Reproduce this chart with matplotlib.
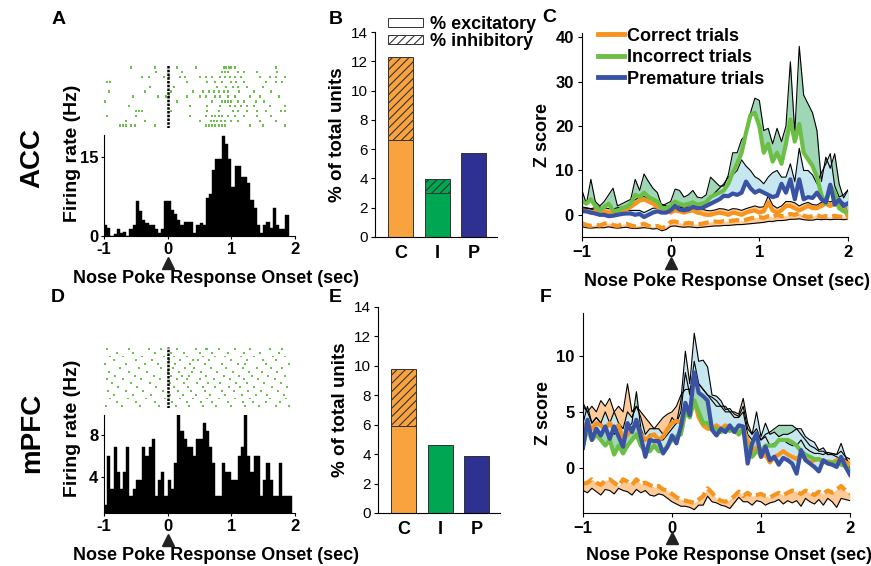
import numpy as np
import matplotlib
matplotlib.use('Agg')
import matplotlib.pyplot as plt
from matplotlib.patches import Patch
from matplotlib.lines import Line2D

plt.rcParams['font.family'] = ['Liberation Sans', 'DejaVu Sans']
plt.rcParams['font.weight'] = 'bold'
plt.rcParams['axes.labelweight'] = 'bold'
plt.rcParams['hatch.linewidth'] = 0.8

# ---------------- data ----------------
# PSTH (50 ms bins starting at -1 s)
acc_hist = [2.1, 1.5, 0, 0.3, 1.4, 0.5, 0.7, 0, 1.4, 2, 6.7, 4.8, 3, 2.5, 2, 2, 1.3, 0.5, 1.4,
            6.7, 6.7, 4.9, 4.2, 3, 2, 2.7, 2.7, 2.7, 0.5, 2, 2.5, 2, 7.3, 7.9, 12.6, 14.6, 14.6,
            19, 17.4, 14.6, 9.3, 13.3, 13.3, 11.3, 11.3, 10.1, 6.8, 5.4, 2.1, 0.5, 2.1, 2.7, 1.6,
            5.4, 2.1, 1.4, 1.4, 4]
mpfc_hist = [1.3, 6.0, 2.8, 6.8, 4.4, 2.8, 4.4, 6.8, 2.1, 2.8, 3.7, 3.7, 6.8, 6.0, 6.8, 7.6, 2.1,
             3.7, 4.4, 2.1, 3.7, 2.8, 5.3, 9.9, 8.4, 7.6, 6.8, 6.8, 6.0, 7.6, 7.6, 9.1, 8.4, 6.8,
             5.3, 2.1, 2.1, 5.3, 4.4, 4.4, 3.7, 3.7, 6.0, 6.8, 9.9, 6.0, 4.4, 6.0, 6.0, 2.1, 3.7,
             5.3, 3.7, 2.1, 2.1, 5.3, 2.1, 2.1, 2.1]

# raster spike times (s), one list per trial
acc_raster = [
    [-0.57, -0.2, 0.15, 0.45, 0.88, 0.92, 0.96, 1.0, 1.05, 1.7],
    [-0.18, 0.22, 0.85, 0.9, 0.95, 1.1, 1.2, 1.4, 1.72],
    [-0.4, -0.3, -0.05, 0.02, 0.2, 0.28, 0.5, 0.6, 0.7, 0.82, 0.9, 0.98, 1.05, 1.15, 1.45, 1.6, 1.7, 1.85],
    [-0.95, -0.9, 0.0, 0.3, 0.62, 0.75, 0.85, 1.0, 1.08, 1.2, 1.55, 1.7, 1.8],
    [-0.28, 0.1, 0.78, 0.92, 1.02, 1.1, 1.25, 1.5],
    [-0.92, -0.35, 0.05, 0.4, 0.55, 0.65, 0.72, 0.8, 0.88, 0.95, 1.12, 1.35, 1.62],
    [-0.55, -0.15, -0.02, 0.02, 0.3, 0.5, 0.6, 0.75, 0.82, 0.95, 1.05, 1.3, 1.45, 1.75],
    [-0.98, 0.15, 0.7, 0.85, 0.9, 0.95, 1.0, 1.1, 1.2, 1.38, 1.52],
    [-0.6, 0.35, 0.62, 0.82, 0.98, 1.05, 1.15, 1.25, 1.35, 1.6, 1.85],
    [-0.5, -0.45, -0.4, 0.05, 0.62, 0.8, 1.02, 1.1, 1.25, 1.4, 1.55, 1.78, 1.85],
    [-0.95, -0.5, 0.02, 0.35, 0.6, 0.7, 0.75, 0.8, 0.85, 0.95, 1.05, 1.2, 1.4, 1.62],
    [-0.65, -0.35, 0.5, 0.68, 0.72, 0.78, 0.83, 0.9, 1.0, 1.1, 1.45, 1.7],
    [-0.75, -0.7, -0.65, -0.58, -0.52, -0.2, 0.6, 0.65, 0.7, 0.75, 0.8, 0.85, 0.9, 1.3, 1.5, 1.85],
]
mpfc_raster = [
    [-0.95, -0.6, -0.3, -0.1, 0.15, 0.45, 0.6, 0.62, 0.8, 1.05, 1.3, 1.6, 1.8],
    [-0.8, -0.55, -0.2, 0.05, 0.25, 0.5, 0.7, 0.95, 1.2, 1.45, 1.75],
    [-0.9, -0.7, -0.4, -0.05, 0.1, 0.3, 0.55, 0.75, 0.9, 1.15, 1.35, 1.65, 1.85],
    [-0.85, -0.5, -0.25, 0.02, 0.2, 0.4, 0.48, 0.65, 1.0, 1.25, 1.5, 1.7],
    [-0.98, -0.65, -0.35, -0.15, 0.12, 0.35, 0.58, 0.85, 1.1, 1.22, 1.55, 1.9],
    [-0.75, -0.45, -0.1, 0.08, 0.28, 0.42, 0.68, 0.92, 1.18, 1.4, 1.62, 1.8],
    [-0.92, -0.6, -0.32, 0.0, 0.18, 0.38, 0.52, 0.78, 1.02, 1.28, 1.48, 1.72],
    [-0.82, -0.52, -0.22, 0.06, 0.22, 0.33, 0.6, 0.88, 1.12, 1.32, 1.58, 1.85],
    [-0.96, -0.7, -0.42, -0.12, 0.14, 0.3, 0.5, 0.72, 0.98, 1.2, 1.42, 1.68],
    [-0.88, -0.58, -0.28, 0.04, 0.26, 0.46, 0.64, 0.82, 1.08, 1.24, 1.52, 1.78],
    [-0.78, -0.48, -0.18, 0.1, 0.32, 0.55, 0.74, 0.96, 1.14, 1.36, 1.64, 1.88],
    [-0.94, -0.66, -0.38, -0.08, 0.16, 0.36, 0.58, 0.86, 1.04, 1.26, 1.46, 1.74],
    [-0.84, -0.54, -0.26, 0.03, 0.24, 0.44, 0.66, 0.9, 1.16, 1.38, 1.56, 1.82],
    [-0.9, -0.62, -0.34, -0.04, 0.2, 0.4, 0.62, 0.8, 1.06, 1.3, 1.6, 1.86],
    [-0.8, -0.5, -0.2, 0.07, 0.3, 0.52, 0.7, 0.94, 1.19, 1.34, 1.54, 1.76],
    [-0.97, -0.72, -0.44, -0.14, 0.13, 0.34, 0.56, 0.76, 1.0, 1.21, 1.44, 1.7, 1.9],
]

# bar charts: % of total units
bar_cats = ['C', 'I', 'P']
acc_exc = [6.6, 3.0, 5.75]
acc_inh = [5.7, 0.95, 0]
mpfc_exc = [5.9, 4.6, 3.9]
mpfc_inh = [3.9, 0, 0]

# z-score traces, 50 ms steps from -1 to 2 s
t = np.linspace(-1, 2, 61)

c_inc_m = [3.0, 2.5, 3.5, 2.0, 1.0, 1.8, 2.5, 1.0, 0.8, 1.5, 1.8, 2.5, 4.5, 4.0, 5.0, 4.0, 3.5, 3.0, 1.5, 1.5,
           2.0, 3.0, 2.5, 2.2, 2.5, 2.8, 2.3, 2.5, 2.8, 4.0, 4.5, 5.0, 5.5, 7.0, 9.5, 11.5, 14.0, 18.5, 22.5, 23.0,
           20.0, 14.0, 16.0, 12.0, 14.0, 11.5, 16.0, 21.5, 16.5, 20.5, 14.0, 12.5, 11.0, 8.5, 4.5, 2.5, 6.5, 5.0, 1.5, 0.8,
           0.5]
c_inc_u = [5.5, 2.5, 8.0, 3.0, 2.0, 3.0, 4.5, 6.0, 2.0, 2.5, 3.0, 3.5, 8.0, 5.5, 9.2, 7.5, 6.0, 5.0, 2.0, 2.5,
           3.0, 5.8, 5.5, 4.0, 4.5, 5.5, 4.0, 3.8, 4.5, 8.5, 7.5, 6.5, 6.5, 9.0, 14.0, 14.0, 17.0, 18.0, 23.0, 26.3,
           25.8, 19.0, 19.5, 16.0, 19.5, 16.5, 20.0, 34.5, 18.5, 38.0, 27.0, 25.0, 23.0, 19.0, 7.5, 13.0, 10.5, 13.8, 7.0, 3.8,
           5.6]
c_pre_m = [0.8, 0.8, 0.5, 0.3, 0.0, 0.0, -0.3, -0.2, 0.0, 0.2, 0.3, 0.3, 0.0, 0.2, -0.5, 0.0, 0.5, 0.8, 0.5, 0.5,
           1.0, 2.0, 1.2, 1.0, 1.2, 1.8, 1.5, 1.5, 2.0, 2.5, 3.0, 3.5, 4.3, 4.2, 4.8, 4.5, 5.0, 7.5, 6.0, 5.0,
           5.5, 5.0, 4.5, 4.0, 4.3, 7.0, 5.0, 8.0, 3.5, 8.0, 3.5, 4.0, 3.8, 5.0, 3.5, 2.8, 6.8, 2.3, 3.4, 2.0,
           2.6]
c_pre_u = [1.5, 1.5, 1.3, 1.0, 0.8, 0.8, 0.5, 0.5, 0.8, 1.0, 1.0, 1.0, 1.0, 1.0, 0.5, 1.0, 1.5, 1.5, 1.5, 1.5,
           2.0, 3.0, 2.0, 2.0, 2.0, 2.8, 2.5, 2.5, 3.0, 4.0, 5.0, 6.0, 7.0, 8.5, 9.0, 10.0, 12.4, 11.0, 10.0, 8.6,
           8.0, 7.0, 8.5, 9.5, 10.0, 8.5, 8.5, 11.5, 7.5, 15.0, 10.0, 10.0, 9.0, 7.0, 9.5, 11.5, 13.8, 6.5, 4.0, 4.5,
           5.6]
c_cor_m = [1.0, 0.8, 0.5, 0.8, 1.0, 0.8, 0.5, 0.5, 0.8, 1.0, 1.2, 1.8, 2.5, 3.2, 3.5, 3.0, 2.5, 1.8, 1.5, 1.0,
           0.5, 1.0, 0.8, 0.5, 0.8, 1.0, 0.5, 0.3, 0.0, 0.0, 0.3, 0.5, 0.3, 0.0, 0.5, 0.3, 0.0, 0.5, 0.8, 1.0,
           0.5, 0.8, 2.8, 1.0, 0.5, 1.0, 2.0, 2.0, 1.5, 1.0, 1.5, 2.0, 1.5, 1.5, 2.0, 2.5, 2.0, 2.5, 2.0, 1.8,
           -0.5]
c_cor_s = [0.8, 0.8, 0.9, 0.8, 0.7, 0.8, 0.9, 0.8, 0.8, 0.7, 0.8, 0.8, 0.9, 0.8, 0.6, 0.7, 0.8, 0.8, 0.9, 1.0,
           0.9, 0.8, 0.9, 1.0, 0.8, 0.8, 1.0, 1.0, 1.0, 0.9, 0.8, 0.9, 1.0, 1.0, 0.9, 1.0, 1.0, 0.9, 0.9, 1.0,
           1.2, 1.0, 1.5, 1.2, 1.0, 1.0, 1.0, 1.0, 1.2, 1.0, 1.0, 0.8, 0.8, 0.7, 0.8, 0.7, 0.9, 0.8, 0.9, 1.0,
           0.8]
c_inh_m = [-1.9, -2.3, -2.5, -2.2, -2.4, -2.0, -1.8, -2.3, -2.5, -2.2, -2.0, -2.4, -2.6, -2.3, -2.0, -2.5, -2.7, -2.5, -3.0, -2.6,
           -1.6, -1.5, -1.8, -2.0, -1.8, -2.0, -2.2, -2.0, -1.8, -1.6, -1.5, -1.6, -1.4, -1.5, -1.3, -1.2, -1.4, -1.1, -0.8, -0.6,
           -0.5, -0.7, -0.3, -0.5, 0.0, -0.3, -0.2, 0.2, 0.0, 0.4, -0.2, -0.5, -0.3, 0.0, -0.5, -0.3, -0.5, -0.2, -0.4, -0.5,
           -0.4]
c_inh_s = [0.8, 0.6, 0.5, 0.7, 0.5, 0.9, 0.9, 0.6, 0.5, 0.7, 0.8, 0.6, 0.5, 0.7, 0.9, 0.5, 0.5, 0.6, 0.6, 0.7,
           1.0, 1.0, 0.9, 0.8, 0.9, 0.8, 0.7, 0.8, 0.9, 1.0, 1.0, 0.9, 1.0, 0.9, 1.0, 1.0, 0.8, 1.0, 1.2, 1.3,
           1.3, 1.0, 1.2, 1.0, 1.3, 1.0, 1.0, 1.2, 1.0, 1.3, 0.9, 0.7, 0.9, 1.0, 0.6, 0.7, 0.6, 0.8, 0.6, 0.6,
           0.6]

f_pre_m = [1.8, 4.3, 2.5, 3.5, 2.9, 3.7, 2.6, 3.7, 2.8, 1.9, 4.0, 3.2, 4.3, 2.8, 1.0, 2.5, 2.4, 2.4, 1.3, 1.9,
           2.9, 2.2, 3.7, 5.8, 4.7, 8.5, 6.7, 6.4, 6.0, 3.4, 2.9, 3.5, 3.2, 3.8, 3.2, 3.8, 3.7, 0.4, 2.2, 3.1,
           1.0, 1.9, 0.7, 1.0, 0.3, 0.9, 0.7, 0.4, -0.5, 1.6, 0.7, 0.4, 0.1, -0.3, 0.7, 0.4, 0.3, 0.1, 1.0, 0.1,
           -0.6]
f_pre_u = [5.5, 5.0, 4.0, 4.5, 4.0, 5.0, 4.0, 5.0, 4.0, 3.5, 5.0, 4.5, 5.5, 4.5, 3.0, 3.5, 3.5, 3.5, 3.0, 3.5,
           4.5, 4.0, 6.0, 10.4, 7.5, 12.0, 9.5, 9.6, 9.0, 6.5, 6.4, 6.0, 5.2, 5.3, 4.8, 4.6, 5.5, 3.5, 3.0, 5.0,
           2.8, 4.0, 3.0, 3.2, 2.8, 3.0, 3.0, 3.2, 3.5, 3.5, 2.8, 2.5, 2.3, 1.6, 1.8, 1.2, 1.3, 1.2, 2.2, 1.0,
           0.2]
f_inc_m = [2.0, 3.5, 2.5, 3.0, 2.5, 2.0, 2.5, 1.2, 2.0, 1.3, 2.0, 2.5, 3.0, 2.0, 1.5, 1.5, 2.0, 1.5, 1.5, 2.0,
           2.5, 2.8, 3.0, 5.0, 4.5, 6.0, 5.0, 4.0, 4.0, 3.5, 3.5, 3.2, 3.5, 3.3, 3.5, 3.0, 3.5, 1.5, 1.0, 1.5,
           1.5, 2.0, 2.0, 2.0, 2.5, 2.5, 2.5, 2.3, 2.0, 1.5, 1.2, 1.0, 0.8, 0.8, 0.6, 0.5, 0.5, 0.5, 0.3, 0.2,
           -0.3]
f_inc_u = [4.0, 5.5, 4.0, 4.5, 4.0, 3.5, 4.0, 3.0, 3.5, 2.5, 3.5, 4.0, 6.8, 3.5, 2.5, 3.0, 3.0, 2.5, 2.5, 3.0,
           3.5, 4.0, 5.0, 8.5, 6.5, 9.5, 7.5, 7.0, 6.5, 6.0, 5.5, 5.5, 5.0, 5.0, 4.5, 4.5, 5.0, 3.0, 2.5, 3.0,
           2.5, 3.0, 3.2, 3.5, 3.8, 3.8, 3.8, 3.8, 3.5, 3.0, 2.5, 2.0, 1.8, 1.5, 1.5, 1.2, 1.2, 1.0, 0.8, 0.8,
           0.0]
f_cor_m = [3.8, 4.0, 3.5, 4.0, 3.8, 3.5, 4.0, 3.5, 3.8, 2.5, 3.0, 3.5, 4.0, 3.0, 2.5, 2.8, 3.0, 2.5, 2.8, 3.5,
           4.0, 4.2, 4.0, 5.5, 5.0, 6.0, 4.5, 3.8, 3.5, 3.5, 3.8, 3.5, 3.8, 3.5, 3.3, 3.0, 3.5, 2.5, 1.5, 1.8,
           1.0, 1.2, 0.5, 1.0, 1.2, 1.5, 1.2, 1.0, 0.8, 1.2, 0.8, 0.5, 0.7, 0.8, 0.5, 0.6, 0.5, 0.7, 0.8, 0.5,
           0.3]
f_cor_u = [5.8, 5.0, 5.5, 5.0, 6.0, 5.5, 6.2, 5.0, 5.5, 5.0, 7.5, 5.0, 5.5, 5.0, 4.5, 4.0, 3.5, 4.0, 4.5, 4.8,
           5.0, 5.5, 6.5, 7.0, 7.0, 8.0, 7.5, 7.0, 6.5, 6.3, 6.0, 5.5, 5.5, 5.0, 5.0, 4.8, 6.2, 4.0, 3.0, 3.5,
           2.5, 2.8, 2.0, 2.2, 2.5, 2.5, 2.2, 2.0, 2.0, 2.5, 1.8, 1.5, 1.3, 1.3, 1.2, 1.4, 1.3, 1.2, 1.5, 1.0,
           0.8]
f_inh_m = [-1.4, -1.3, -1.0, -1.3, -1.5, -1.1, -1.0, -1.3, -1.6, -1.0, -1.2, -1.5, -1.0, -1.4, -1.3, -1.5, -1.7, -1.6, -1.9, -2.0,
           -2.3, -2.6, -2.8, -2.9, -3.0, -3.1, -2.8, -2.5, -1.8, -2.2, -2.7, -2.9, -3.0, -2.8, -2.5, -2.1, -2.5, -2.2, -2.5, -2.4,
           -2.3, -2.5, -2.6, -2.4, -2.2, -2.4, -2.2, -2.0, -2.1, -2.3, -2.0, -2.2, -2.4, -2.1, -2.3, -2.0, -2.2, -1.9, -1.6, -2.0,
           -2.3]
f_inh_l = [-2.0, -2.2, -1.8, -2.1, -2.4, -1.9, -2.0, -2.3, -1.8, -2.0, -2.1, -2.4, -1.9, -2.2, -2.0, -2.4, -2.5, -2.3, -2.4, -2.7,
           -3.0, -3.2, -3.4, -3.4, -3.5, -3.7, -3.3, -3.3, -2.5, -3.0, -3.1, -3.3, -3.4, -3.6, -3.1, -2.6, -3.0, -3.0, -3.3, -2.9,
           -3.0, -3.3, -3.1, -3.0, -2.8, -3.2, -2.9, -3.1, -2.9, -3.4, -2.7, -3.0, -3.2, -2.8, -3.3, -2.7, -3.0, -3.5, -2.7, -2.8,
           -2.9]

# ---------------- style ----------------
orange = '#F7941D'
orange_bar = '#F9A33F'
orange_fill = '#FDCA98'
green_line = '#6CBF45'
green_bar = '#00A651'
green_fill = '#9ED6B6'
blue_line = '#3A52A3'
blue_bar = '#2E3192'
blue_fill = '#C6E7EF'
raster_green = '#5DBB3C'

fig = plt.figure(figsize=(8.71, 5.66), dpi=100)
W, H = 871.0, 566.0


def box(x0, y0, x1, y1):
    # pixel box (top-left origin) -> figure fraction
    return [x0 / W, 1 - y1 / H, (x1 - x0) / W, (y1 - y0) / H]


def triangle(ax, frac):
    ax.plot([0], [frac], marker='^', color='#222222', markersize=8,
            transform=ax.get_xaxis_transform(), clip_on=False)


def psth(raster_box, hist_box, spikes, hist, ylim, yticks):
    axr = fig.add_axes(box(*raster_box))
    axr.eventplot(spikes, colors=raster_green, lineoffsets=1, linelengths=0.5, linewidths=1.3)
    axr.axvline(0, color='k', lw=1.8, ls=(0, (1, 0.5)))
    axr.set_xlim(-1, 2)
    axr.set_ylim(len(spikes) - 0.5, -0.5)
    axr.axis('off')

    ax = fig.add_axes(box(*hist_box))
    edges = -1 + 0.05 * np.arange(len(hist))
    ax.bar(edges, hist, width=0.05, align='edge', color='k', edgecolor='k', lw=0.3)
    ax.set_xlim(-1, 2)
    ax.set_ylim(*ylim)
    ax.set_xticks([-1, 0, 1, 2])
    ax.set_xticklabels(['-1', '0', '1', '2'])
    ax.set_yticks(yticks)
    ax.set_yticklabels([str(v) for v in yticks])
    for s in ['top', 'right']:
        ax.spines[s].set_visible(False)
    ax.tick_params(labelsize=12, length=2, width=0.8, pad=2)
    ax.set_xlabel('Nose Poke Response Onset (sec)', fontsize=13, labelpad=10)
    ax.xaxis.label.set_x(0.585)
    return ax


# ----- A / D -----
axA = psth((104, 65, 295, 128), (104, 135, 295, 236), acc_raster, acc_hist, (0, 19.2), [0, 15])
triangle(axA, -0.27)

axD = psth((104, 347, 295, 408), (104, 415, 295, 513), mpfc_raster, mpfc_hist, (0.5, 9.9), [4, 8])
triangle(axD, -0.275)

fig.text(72 / W, 1 - 153 / H, 'Firing rate (Hz)', rotation=90, ha='center', va='center', fontsize=14)
fig.text(72 / W, 1 - 428 / H, 'Firing rate (Hz)', rotation=90, ha='center', va='center', fontsize=14)
fig.text(32 / W, 1 - 158 / H, 'ACC', rotation=90, ha='center', va='center', fontsize=20)
fig.text(32 / W, 1 - 433 / H, 'mPFC', rotation=90, ha='center', va='center', fontsize=20)


# ----- B / E -----
def bars(bx, exc, inh):
    ax = fig.add_axes(box(*bx))
    xs = np.arange(len(bar_cats))
    cols = [orange_bar, green_bar, blue_bar]
    ax.bar(xs, exc, width=0.68, color=cols, edgecolor='#333333', lw=0.7)
    ax.bar(xs, inh, bottom=exc, width=0.68, color=cols, edgecolor='#333333', lw=0.7, hatch='////')
    ax.set_xlim(-0.69, 2.63)
    ax.set_ylim(0, 14)
    ax.set_yticks(range(0, 15, 2))
    ax.set_xticks(xs)
    ax.set_xticklabels(bar_cats, fontsize=13)
    for lab in ax.get_yticklabels():
        lab.set_fontweight('normal')
        lab.set_fontsize(11)
    for s in ['top', 'right']:
        ax.spines[s].set_visible(False)
    ax.tick_params(axis='x', length=0, pad=6)
    ax.tick_params(axis='y', length=3, width=0.8, pad=2)
    ax.set_ylabel('% of total units', fontsize=13.5, labelpad=4)
    return ax


axB = bars((375, 32, 497, 237), acc_exc, acc_inh)
axE = bars((378, 307, 500, 513), mpfc_exc, mpfc_inh)
handles = [Patch(facecolor='white', edgecolor='#333333', lw=0.7),
           Patch(facecolor='white', edgecolor='#333333', lw=0.7, hatch='////')]
fig.legend(handles, ['% excitatory', '% inhibitory'], loc='upper left',
           bbox_to_anchor=(379 / W, 1 - 7 / H), frameon=False, borderpad=0,
           handlelength=1.95, handleheight=0.4, labelspacing=0.0, handletextpad=0.4,
           prop={'weight': 'bold', 'size': 13})


# ----- C / F -----
def zpanel(bx, ylim, yticks, lpad):
    ax = fig.add_axes(box(*bx))
    ax.set_xlim(-1, 2)
    ax.set_ylim(*ylim)
    ax.set_xticks([-1, 0, 1, 2])
    ax.set_xticklabels(['\u22121', '0', '1', '2'])
    ax.set_yticks(yticks)
    for s in ['top', 'right']:
        ax.spines[s].set_visible(False)
    ax.tick_params(labelsize=12, length=3, width=0.8, pad=3)
    ax.set_ylabel('Z score', fontsize=13, labelpad=3)
    ax.set_xlabel('Nose Poke Response Onset (sec)', fontsize=13, labelpad=lpad)
    ax.xaxis.label.set_x(0.545)
    return ax


def band(ax, lo, hi, fill):
    ax.fill_between(t, lo, hi, color=fill, lw=0)


axC = zpanel((582, 33, 848, 237), (-5, 41), [0, 10, 20, 30, 40], 9)
c_cor_u = np.array(c_cor_m) + np.array(c_cor_s)
c_inh_l = np.array(c_inh_m) - np.array(c_inh_s)
band(axC, c_inc_m, c_inc_u, green_fill)
band(axC, c_pre_m, c_pre_u, blue_fill)
band(axC, c_cor_m, c_cor_u, orange_fill)
band(axC, c_inh_l, c_inh_m, orange_fill)
for up in [c_inc_u, c_pre_u, c_cor_u, c_inh_l]:
    axC.plot(t, up, color='k', lw=0.8)
axC.plot(t, c_cor_m, color=orange, lw=3)
axC.plot(t, c_inh_m, color=orange, lw=3, ls=(0, (2.5, 1.2)))
axC.plot(t, c_inc_m, color=green_line, lw=3)
axC.plot(t, c_pre_m, color=blue_line, lw=3)
triangle(axC, -0.125)
leg_handles = [Line2D([], [], color=orange, lw=3.5), Line2D([], [], color=green_line, lw=3.5),
               Line2D([], [], color=blue_line, lw=3.5)]
axC.legend(leg_handles, ['Correct trials', 'Incorrect trials', 'Premature trials'],
           loc='upper left', bbox_to_anchor=(0.025, 1.07), frameon=False, fontsize=13,
           borderpad=0, handlelength=1.45, handletextpad=0.2, labelspacing=0.25)

axF = zpanel((583, 313, 850, 513), (-4, 13.8), [0, 5, 10], 8)
band(axF, f_cor_m, f_cor_u, orange_fill)
band(axF, f_inc_m, f_inc_u, green_fill)
band(axF, f_pre_m, f_pre_u, blue_fill)
band(axF, f_inh_l, f_inh_m, orange_fill)
for up in [f_cor_u, f_inc_u, f_pre_u, f_inh_l]:
    axF.plot(t, up, color='k', lw=0.8)
axF.plot(t, f_cor_m, color=orange, lw=3)
axF.plot(t, f_inh_m, color=orange, lw=3, ls=(0, (2.5, 1.2)))
axF.plot(t, f_inc_m, color=green_line, lw=3)
axF.plot(t, f_pre_m, color=blue_line, lw=3)
triangle(axF, -0.125)

# panel letters
for x, y, s in [(52, 20, 'A'), (329, 20, 'B'), (542, 18, 'C'),
                (51, 298, 'D'), (329, 297, 'E'), (540, 298, 'F')]:
    fig.text(x / W, 1 - y / H, s, fontsize=14, ha='left', va='center')

fig.savefig('out.png', dpi=100)
